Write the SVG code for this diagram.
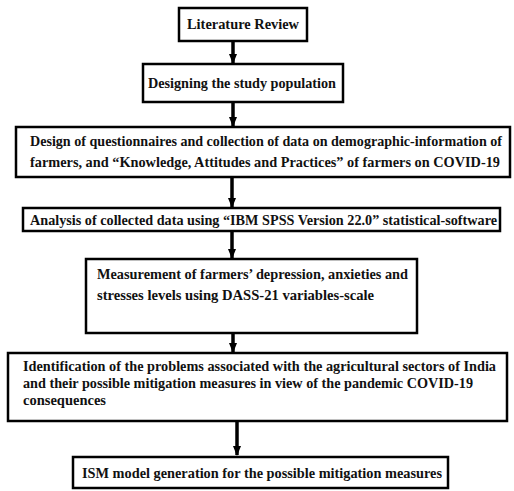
<svg xmlns="http://www.w3.org/2000/svg" width="514" height="491" viewBox="0 0 514 491">
<style>
.box{fill:#fff;stroke:#000;stroke-width:2.5}
.t{font-family:'Liberation Serif','DejaVu Serif',serif;font-weight:700;font-size:14.5px;fill:#111}
.s{font-size:13.8px}
.c{stroke:#000;stroke-width:3.5;fill:none}
</style>
<defs>
<marker id="ah" markerWidth="10" markerHeight="8" refX="9" refY="4" orient="auto" markerUnits="userSpaceOnUse"><path d="M0,0 L10,4 L0,8 Z" fill="#000"/></marker>
</defs>
<rect width="514" height="491" fill="#fff"/>
<g id="connectors">
<line class="c" x1="233" y1="41" x2="233" y2="63" marker-end="url(#ah)"/>
<line class="c" x1="233" y1="102" x2="233" y2="126" marker-end="url(#ah)"/>
<line class="c" x1="232" y1="177" x2="232" y2="207" marker-end="url(#ah)"/>
<line class="c" x1="232" y1="231" x2="232" y2="258" marker-end="url(#ah)"/>
<line class="c" x1="233" y1="333" x2="233" y2="352" marker-end="url(#ah)"/>
<line class="c" x1="237" y1="421" x2="237" y2="455" marker-end="url(#ah)"/>
</g>
<g id="n1"><rect class="box" x="179" y="8" width="128" height="33"/>
<text class="t" x="187" y="29" textLength="112" lengthAdjust="spacingAndGlyphs">Literature Review</text></g>
<g id="n2"><rect class="box" x="143" y="64" width="200" height="38"/>
<text class="t" x="148" y="88" textLength="188" lengthAdjust="spacingAndGlyphs">Designing the study population</text></g>
<g id="n3"><rect class="box" x="16" y="127" width="494" height="50"/>
<text class="t s" x="30" y="146" textLength="472" lengthAdjust="spacingAndGlyphs">Design of questionnaires and collection of data on demographic-information of</text>
<text class="t" x="30" y="167" textLength="470" lengthAdjust="spacingAndGlyphs">farmers, and “Knowledge, Attitudes and Practices” of farmers on COVID-19</text></g>
<g id="n4"><rect class="box" x="23" y="208" width="477" height="23"/>
<text class="t" x="30" y="225" textLength="467" lengthAdjust="spacingAndGlyphs">Analysis of collected data using “IBM SPSS Version 22.0” statistical-software</text></g>
<g id="n5"><rect class="box" x="86" y="259" width="331" height="74"/>
<text class="t" x="97" y="279" textLength="311" lengthAdjust="spacingAndGlyphs">Measurement of farmers’ depression, anxieties and</text>
<text class="t" x="97" y="300" textLength="277" lengthAdjust="spacingAndGlyphs">stresses levels using DASS-21 variables-scale</text></g>
<g id="n6"><rect class="box" x="8" y="353" width="499" height="68"/>
<text class="t" x="23" y="371" textLength="473" lengthAdjust="spacingAndGlyphs">Identification of the problems associated with the agricultural sectors of India</text>
<text class="t" x="23" y="388" textLength="450" lengthAdjust="spacingAndGlyphs">and their possible mitigation measures in view of the pandemic COVID-19</text>
<text class="t" x="23" y="405" textLength="83" lengthAdjust="spacingAndGlyphs">consequences</text></g>
<g id="n7"><rect class="box" x="73" y="457" width="375" height="31"/>
<text class="t" x="82" y="478" textLength="360" lengthAdjust="spacingAndGlyphs">ISM model generation for the possible mitigation measures</text></g>
</svg>
